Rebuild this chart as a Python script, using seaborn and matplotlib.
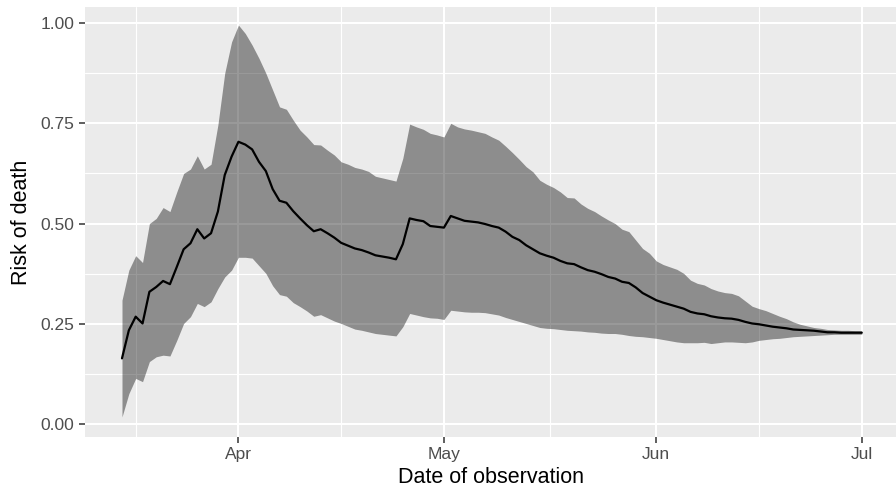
import numpy as np
import pandas as pd
import matplotlib
matplotlib.use("Agg")
import matplotlib.pyplot as plt
import matplotlib.dates as mdates
from matplotlib.ticker import FixedLocator
import seaborn as sns

# ---- data ----
start_date = "2020-03-15"
n_days = 109

risk_mean = [
    0.164, 0.234, 0.268, 0.251, 0.330, 0.342, 0.357, 0.349, 0.392, 0.436,
    0.451, 0.486, 0.463, 0.476, 0.530, 0.621, 0.667, 0.704, 0.697, 0.685,
    0.654, 0.631, 0.586, 0.557, 0.552, 0.531, 0.513, 0.496, 0.481, 0.486,
    0.476, 0.465, 0.452, 0.445, 0.438, 0.434, 0.428, 0.421, 0.418, 0.415,
    0.411, 0.449, 0.513, 0.509, 0.506, 0.494, 0.492, 0.490, 0.519, 0.513,
    0.507, 0.505, 0.503, 0.499, 0.494, 0.490, 0.480, 0.467, 0.459, 0.446,
    0.436, 0.426, 0.420, 0.415, 0.407, 0.401, 0.399, 0.391, 0.384, 0.380,
    0.374, 0.367, 0.363, 0.355, 0.352, 0.341, 0.327, 0.318, 0.309, 0.303,
    0.298, 0.293, 0.288, 0.280, 0.276, 0.274, 0.269, 0.266, 0.264, 0.263,
    0.260, 0.255, 0.251, 0.249, 0.246, 0.243, 0.241, 0.239, 0.236, 0.235,
    0.234, 0.233, 0.231, 0.229, 0.229, 0.228, 0.228, 0.228, 0.228,
]

risk_upper = [
    0.309, 0.384, 0.420, 0.403, 0.500, 0.513, 0.540, 0.530, 0.579, 0.625,
    0.636, 0.669, 0.636, 0.648, 0.746, 0.875, 0.953, 0.995, 0.974, 0.945,
    0.912, 0.875, 0.833, 0.791, 0.785, 0.758, 0.733, 0.716, 0.697, 0.696,
    0.683, 0.671, 0.654, 0.648, 0.640, 0.636, 0.630, 0.618, 0.614, 0.610,
    0.606, 0.663, 0.748, 0.741, 0.735, 0.725, 0.721, 0.716, 0.750, 0.741,
    0.736, 0.733, 0.729, 0.725, 0.716, 0.708, 0.693, 0.677, 0.660, 0.642,
    0.629, 0.608, 0.598, 0.590, 0.579, 0.565, 0.564, 0.549, 0.538, 0.530,
    0.519, 0.509, 0.500, 0.486, 0.480, 0.459, 0.438, 0.426, 0.407, 0.398,
    0.392, 0.386, 0.376, 0.359, 0.351, 0.347, 0.338, 0.332, 0.328, 0.326,
    0.320, 0.307, 0.294, 0.288, 0.283, 0.276, 0.269, 0.263, 0.255, 0.249,
    0.245, 0.241, 0.239, 0.236, 0.235, 0.234, 0.234, 0.233, 0.233,
]

risk_lower = [
    0.018, 0.076, 0.114, 0.106, 0.156, 0.168, 0.172, 0.170, 0.209, 0.251,
    0.268, 0.301, 0.293, 0.305, 0.338, 0.367, 0.384, 0.416, 0.416, 0.414,
    0.395, 0.376, 0.345, 0.323, 0.319, 0.303, 0.293, 0.282, 0.269, 0.273,
    0.265, 0.257, 0.251, 0.244, 0.237, 0.234, 0.230, 0.226, 0.224, 0.222,
    0.220, 0.243, 0.276, 0.272, 0.268, 0.265, 0.264, 0.261, 0.284, 0.282,
    0.280, 0.279, 0.279, 0.278, 0.275, 0.272, 0.266, 0.261, 0.256, 0.251,
    0.246, 0.241, 0.239, 0.238, 0.236, 0.234, 0.233, 0.232, 0.230, 0.229,
    0.227, 0.226, 0.226, 0.224, 0.221, 0.219, 0.218, 0.216, 0.214, 0.211,
    0.208, 0.205, 0.203, 0.203, 0.203, 0.204, 0.201, 0.203, 0.205, 0.205,
    0.204, 0.203, 0.205, 0.209, 0.211, 0.213, 0.214, 0.216, 0.218, 0.219,
    0.220, 0.221, 0.222, 0.223, 0.224, 0.224, 0.224, 0.224, 0.224,
]

x_tick_dates = ["2020-04-01", "2020-05-01", "2020-06-01", "2020-07-01"]
x_tick_labels = ["Apr", "May", "Jun", "Jul"]
x_minor_dates = ["2020-03-17T00:00", "2020-04-16T00:00", "2020-05-16T12:00", "2020-06-16T00:00"]
y_ticks = [0.00, 0.25, 0.50, 0.75, 1.00]
y_tick_labels = ["0.00", "0.25", "0.50", "0.75", "1.00"]
y_minor = [0.125, 0.375, 0.625, 0.875]

dates = pd.date_range(start_date, periods=n_days, freq="D")
df = pd.DataFrame({"date": dates, "risk": risk_mean,
                   "lo": risk_lower, "hi": risk_upper})

# ---- style ----
sns.set_theme(style="darkgrid")
plt.rcParams["font.family"] = ["Liberation Sans", "DejaVu Sans"]

W, H = 896, 490
fig = plt.figure(figsize=(W / 100, H / 100), dpi=100)
left, right, top, bottom = 85, 896, 7, 437
ax = fig.add_axes([left / W, 1 - bottom / H, (right - left) / W, (bottom - top) / H])
ax.set_facecolor("#EBEBEB")

ax.fill_between(df["date"], df["lo"], df["hi"], color="black", alpha=0.4,
                linewidth=0, zorder=2)
sns.lineplot(data=df, x="date", y="risk", ax=ax, color="black",
             linewidth=1.6, zorder=3)

# limits (ggplot-like 5% expansion)
d0 = dates[0]
ax.set_xlim(d0 - pd.Timedelta(days=5.4), d0 + pd.Timedelta(days=113.0))
ax.set_ylim(-0.032, 1.040)

major_x = mdates.date2num(pd.to_datetime(x_tick_dates, format="ISO8601"))
minor_x = mdates.date2num(pd.to_datetime(x_minor_dates, format="ISO8601"))
ax.xaxis.set_major_locator(FixedLocator(major_x))
ax.xaxis.set_minor_locator(FixedLocator(minor_x))
ax.set_xticklabels(x_tick_labels)
ax.set_yticks(y_ticks)
ax.set_yticklabels(y_tick_labels)
ax.yaxis.set_minor_locator(FixedLocator(y_minor))

ax.grid(which="major", color="white", linewidth=1.5, zorder=1)
ax.grid(which="minor", color="white", linewidth=0.8, zorder=1)
ax.set_axisbelow(True)
for s in ax.spines.values():
    s.set_visible(False)

ax.tick_params(axis="both", which="major", length=4.5, width=1.1, color="#333333",
               labelsize=12.5, labelcolor="#4D4D4D", pad=3, direction="out",
               bottom=True, left=True)
ax.tick_params(axis="both", which="minor", length=0)

ax.set_xlabel("Date of observation", fontsize=15.5, color="black", labelpad=3)
ax.set_ylabel("Risk of death", fontsize=15.5, color="black", labelpad=6)

fig.savefig("out.png", dpi=100)
